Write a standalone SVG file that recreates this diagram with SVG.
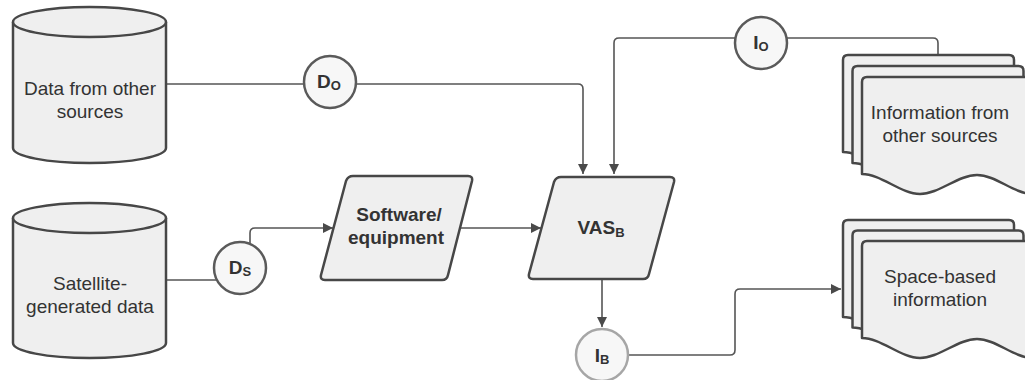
<svg xmlns="http://www.w3.org/2000/svg" width="1025" height="380" viewBox="0 0 1025 380">
<defs>
<style>
.shape{fill:#efefef;stroke:#474747;stroke-width:2.5;stroke-linejoin:round}
.circ{fill:#f7f7f7;stroke:#5a5a5a;stroke-width:2.5}
.circ2{fill:#f7f7f7;stroke:#a6a6a6;stroke-width:2.5}
.conn{fill:none;stroke:#555;stroke-width:1.6}
.lbl{font-family:"Liberation Sans",Arial,sans-serif;font-size:19px;fill:#333;text-anchor:middle}
.b{font-weight:bold}
.sub{font-size:13px;font-weight:bold}
</style>
<marker id="arr" viewBox="0 0 10 10" refX="10" refY="5" markerWidth="10" markerHeight="10" markerUnits="userSpaceOnUse" orient="auto">
<path d="M0,0 L10,5 L0,10 Z" fill="#4a4a4a"/>
</marker>
<path id="page" d="M0,97 L0,5 Q0,0 5,0 L166,0 Q171,0 171,5 L171,117 C152,117 134,98 115,98 C96,98 77,117 58,117 C39,117 19,97 0,97 Z"/>
</defs>

<g id="connectors">
<path class="conn" d="M166,84 L578,84 Q583,84 583,89 L583,174" marker-end="url(#arr)"/>
<path class="conn" d="M938,55 L938,43 Q938,38 933,38 L619,38 Q614,38 614,43 L614,174" marker-end="url(#arr)"/>
<path class="conn" d="M166,280 L250,280 L250,233 Q250,228 255,228 L333,228" marker-end="url(#arr)"/>
<path class="conn" d="M460,228 L541,228" marker-end="url(#arr)"/>
<path class="conn" d="M602,280 L602,327" marker-end="url(#arr)"/>
<path class="conn" d="M628,355 L730,355 Q735,355 735,350 L735,294 Q735,289 740,289 L841,289" marker-end="url(#arr)"/>
</g>

<g id="data-other">
<path class="shape" d="M13,22 L13,148 A76.5,15 0 0 0 166,148 L166,22 A76.5,15 0 0 0 13,22 Z"/>
<path class="shape" fill="none" d="M13,22 A76.5,15 0 0 0 166,22"/>
<text class="lbl" x="90" y="95">Data from other</text>
<text class="lbl" x="90" y="118">sources</text>
</g>

<g id="satellite-data">
<path class="shape" d="M13,218 L13,343 A76.5,15 0 0 0 166,343 L166,218 A76.5,15 0 0 0 13,218 Z"/>
<path class="shape" fill="none" d="M13,218 A76.5,15 0 0 0 166,218"/>
<text class="lbl" x="90" y="290">Satellite-</text>
<text class="lbl" x="90" y="313">generated data</text>
</g>

<g id="d-o">
<circle class="circ" cx="330" cy="82" r="26"/>
<text class="lbl b" x="329" y="88">D<tspan class="sub" dy="2">O</tspan></text>
</g>

<g id="d-s">
<circle class="circ" cx="240" cy="268" r="26"/>
<text class="lbl b" x="240" y="274">D<tspan class="sub" dy="2">S</tspan></text>
</g>

<g id="i-o">
<circle class="circ" cx="761" cy="43" r="26"/>
<text class="lbl b" x="761" y="49">I<tspan class="sub" dy="2">O</tspan></text>
</g>

<g id="i-b">
<circle class="circ2" cx="602" cy="355" r="26"/>
<text class="lbl b" x="602" y="362">I<tspan class="sub" dy="2">B</tspan></text>
</g>

<g id="software">
<path class="shape" d="M353,176 L468,176 Q473,176 472,181 L448,275 Q447,280 442,280 L325,280 Q320,280 321,275 L346,181 Q348,176 353,176 Z"/>
<text class="lbl b" x="399" y="221">Software/</text>
<text class="lbl b" x="396" y="244">equipment</text>
</g>

<g id="vas">
<path class="shape" d="M561,177 L670,177 Q675,177 674,182 L649,274 Q648,279 643,279 L533,279 Q528,279 529,274 L554,182 Q556,177 561,177 Z"/>
<text class="lbl b" x="601" y="234">VAS<tspan class="sub" dy="3">B</tspan></text>
</g>

<g id="info-other">
<use href="#page" class="shape" transform="translate(843,55)"/>
<use href="#page" class="shape" transform="translate(852.5,66)"/>
<use href="#page" class="shape" transform="translate(862,77)"/>
<text class="lbl" x="940" y="119">Information from</text>
<text class="lbl" x="940" y="142">other sources</text>
</g>

<g id="space-info">
<use href="#page" class="shape" transform="translate(843,220)"/>
<use href="#page" class="shape" transform="translate(852.5,230.5)"/>
<use href="#page" class="shape" transform="translate(862,241)"/>
<text class="lbl" x="940" y="283">Space-based</text>
<text class="lbl" x="940" y="306">information</text>
</g>
</svg>
